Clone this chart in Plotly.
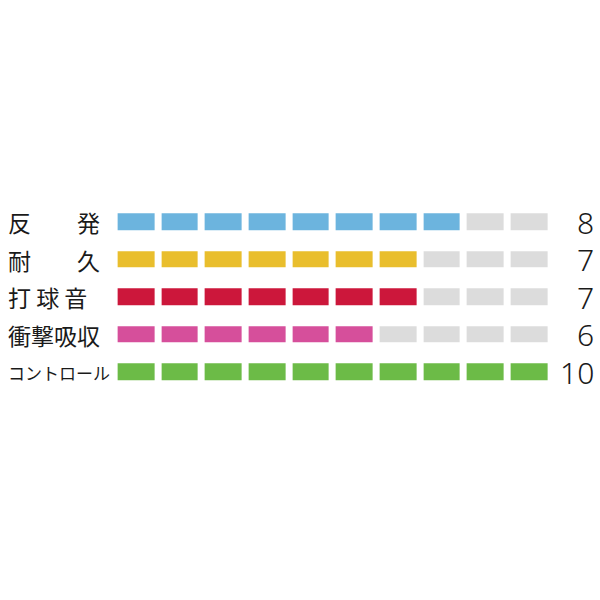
import plotly.graph_objects as go

# ratings (out of 10)
categories = ["反　　発", "耐　　久", "打 球 音", "衝撃吸収", "コントロール"]
scores = [8, 7, 7, 6, 10]
max_score = 10
row_colors = ["#6cb4de", "#e9be2d", "#cc173b", "#d64f9b", "#6cbb47"]
empty_color = "#dcdcdc"

label_sizes = [23, 23, 23, 23, 17]

# z: 0 = empty, k = colour of row k
z = []
for i, s in enumerate(scores):
    z.append([i + 1 if j < s else 0 for j in range(max_score)])

n = len(row_colors) + 1
palette = [empty_color] + row_colors
colorscale = []
for k, c in enumerate(palette):
    colorscale.append([k / n, c])
    colorscale.append([(k + 1) / n, c])

fig = go.Figure(
    go.Heatmap(
        z=z,
        x=list(range(max_score)),
        y=categories,
        zmin=0,
        zmax=n,
        colorscale=colorscale,
        showscale=False,
        xgap=7,
        ygap=21,
        hoverinfo="skip",
    )
)

for cat, s, fs in zip(categories, scores, label_sizes):
    fig.add_annotation(
        x=0.01, xref="paper", xanchor="left",
        y=cat, yref="y",
        text=cat, showarrow=False,
        font=dict(family="Noto Sans CJK JP", size=fs, color="#1a1a1a"),
    )
    fig.add_annotation(
        x=0.993, xref="paper", xanchor="right",
        y=cat, yref="y",
        text=str(s), showarrow=False,
        font=dict(family="Noto Sans", size=30, color="#1a1a1a", weight=300),
    )

fig.update_layout(
    width=600,
    height=600,
    margin=dict(l=0, r=0, t=0, b=0),
    paper_bgcolor="white",
    plot_bgcolor="white",
    xaxis=dict(domain=[0.191, 0.919], visible=False, range=[-0.5, 9.5]),
    yaxis=dict(domain=[0.3425, 0.6675], visible=False, autorange="reversed"),
    showlegend=False,
)

fig.write_html(
    "out.html",
    config={"displayModeBar": False},
    post_script="document.body.style.margin='0';document.body.style.overflow='hidden';",
)
